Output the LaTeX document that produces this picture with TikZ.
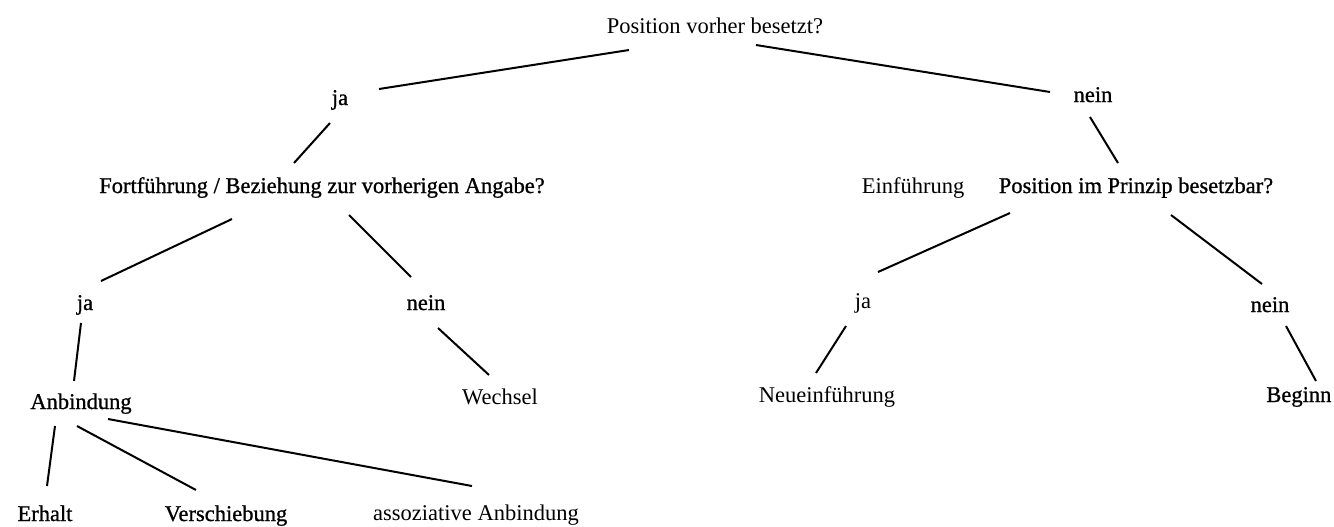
\documentclass[tikz,border=0pt]{standalone}
\usepackage{fontspec}
\setmainfont{Liberation Serif}
\newfontfamily\darkserif[FakeBold=0.9]{Liberation Serif}
\tikzset{
  lbl/.style={anchor=base, inner sep=0pt, font=\fontsize{11.25}{13}\selectfont},
  dark/.style={lbl, font=\darkserif\fontsize{11.25}{13}\selectfont},
  conn/.style={line width=1pt}
}
\begin{document}
\begin{tikzpicture}[x=0.5pt, y=-0.5pt]
    \useasboundingbox (0,0) rectangle (1334,526);
    % questions and answers
    \node[lbl] (top) at (715,33) {Position vorher besetzt?};
    \node[dark] (ja1) at (340,105) {ja};
    \node[dark] (nein1) at (1093,102) {nein};
    \node[dark] (fort) at (322,193) {Fortführung / Beziehung zur vorherigen Angabe?};
    \node[lbl] (einf) at (913,193) {Einführung};
    \node[dark] (prinz) at (1136,193) {Position im Prinzip besetzbar?};
    \node[dark] (ja2) at (85,310) {ja};
    \node[dark] (nein2) at (426,310) {nein};
    \node[lbl] (ja3) at (863,308) {ja};
    \node[dark] (nein3) at (1270,312) {nein};
    \node[dark] (anb) at (81,409) {Anbindung};
    \node[lbl] (wech) at (500,404) {Wechsel};
    \node[lbl] (neu) at (827,402) {Neueinführung};
    \node[dark, anchor=base west] (beg) at (1266,402) {Beginn};
    \node[dark] (erh) at (45,521) {Erhalt};
    \node[dark] (ver) at (226,521) {Verschiebung};
    \node[lbl] (ass) at (476,520) {assoziative Anbindung};
    % branches
    \draw[conn] ([shift={(-86,17)}]top.base) -- ([shift={(39,-16)}]ja1.base);
    \draw[conn] ([shift={(41,12)}]top.base) -- ([shift={(-43,-10)}]nein1.base);
    \draw[conn] ([shift={(-10,18)}]ja1.base) -- ([shift={(-28,-30)}]fort.base);
    \draw[conn] ([shift={(-90,26)}]fort.base) -- ([shift={(16,-29)}]ja2.base);
    \draw[conn] ([shift={(27,22)}]fort.base) -- ([shift={(-15,-33)}]nein2.base);
    \draw[conn] ([shift={(-3,15)}]nein1.base) -- ([shift={(-18,-30)}]prinz.base);
    \draw[conn] ([shift={(-126,20)}]prinz.base) -- ([shift={(15,-36)}]ja3.base);
    \draw[conn] ([shift={(35,22)}]prinz.base) -- ([shift={(-8,-28)}]nein3.base);
    \draw[conn] ([shift={(-4,13)}]ja2.base) -- ([shift={(-7,-28)}]anb.base);
    \draw[conn] ([shift={(12,18)}]nein2.base) -- ([shift={(-11,-29)}]wech.base);
    \draw[conn] ([shift={(-17,18)}]ja3.base) -- ([shift={(-11,-29)}]neu.base);
    \draw[conn] ([shift={(16,14)}]nein3.base) -- ([shift={(50,-21)}]beg.base west);
    \draw[conn] ([shift={(-26,17)}]anb.base) -- ([shift={(2,-35)}]erh.base);
    \draw[conn] ([shift={(-4,17)}]anb.base) -- ([shift={(-30,-31)}]ver.base);
    \draw[conn] ([shift={(27,10)}]anb.base) -- ([shift={(-4,-34)}]ass.base);
\end{tikzpicture}
\end{document}
